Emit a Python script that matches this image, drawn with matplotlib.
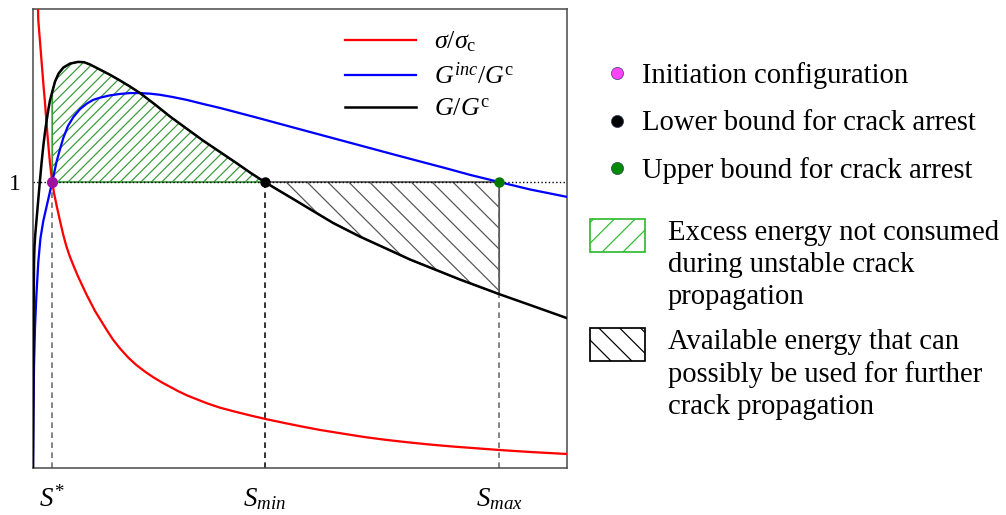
import matplotlib
matplotlib.use("Agg")
import matplotlib.pyplot as plt
from matplotlib.patches import Rectangle

plt.rcParams["font.family"] = ["Liberation Serif", "DejaVu Serif"]
plt.rcParams["mathtext.fontset"] = "custom"
plt.rcParams["mathtext.rm"] = "Liberation Serif"
plt.rcParams["mathtext.it"] = "Liberation Serif:italic"
plt.rcParams["hatch.linewidth"] = 0.7

# characteristic crack lengths
S_STAR = 0.36
S_MIN = 4.34
S_MAX = 8.73
x_ticks = [S_STAR, S_MIN, S_MAX]
x_tick_labels = [r"$S^{*}$", r"$S_{min}$", r"$S_{max}$"]

# sigma / sigma_c
red_x = [0.081, 0.099, 0.163, 0.193, 0.225, 0.268, 0.292, 0.318, 0.36, 0.393, 0.444, 0.506,
         0.567, 0.627, 0.693, 0.768, 0.843, 0.993, 1.161, 1.386, 1.498, 1.629, 1.779,
         1.929, 2.097, 2.247, 2.416, 2.566, 2.715, 2.884, 3.071, 3.277, 3.502, 3.783,
         4.064, 4.363, 4.719, 5.037, 5.375, 5.843, 6.217, 6.629, 7.060, 7.434, 7.865,
         8.296, 8.73, 9.307, 10.0]
red_y = [1.706, 1.566, 1.416, 1.346, 1.276, 1.171, 1.119, 1.066, 1.0, 0.962, 0.916, 0.864,
         0.815, 0.774, 0.738, 0.703, 0.670, 0.610, 0.549, 0.481, 0.449, 0.418, 0.387,
         0.361, 0.337, 0.318, 0.299, 0.284, 0.269, 0.254, 0.240, 0.225, 0.211, 0.197,
         0.184, 0.171, 0.157, 0.145, 0.133, 0.119, 0.108, 0.098, 0.089, 0.082, 0.075,
         0.069, 0.063, 0.056, 0.049]

# G_inc / G_c
blue_x = [0.0, 0.007, 0.019, 0.037, 0.062, 0.099, 0.140, 0.193, 0.287, 0.36, 0.444, 0.506,
          0.567, 0.655, 0.755, 0.880, 1.006, 1.124, 1.255, 1.442, 1.629, 1.816, 2.004,
          2.191, 2.378, 2.622, 2.884, 3.184, 3.502, 4.176, 4.869, 5.506, 6.124, 6.742,
          7.247, 7.715, 8.184, 8.73, 9.307, 10.0]
blue_y = [0.0, 0.168, 0.360, 0.490, 0.598, 0.720, 0.804, 0.864, 0.941, 1.0, 1.073, 1.115,
          1.154, 1.196, 1.227, 1.255, 1.274, 1.287, 1.295, 1.303, 1.308, 1.311, 1.311,
          1.309, 1.305, 1.297, 1.287, 1.273, 1.259, 1.226, 1.191, 1.159, 1.128, 1.097,
          1.072, 1.049, 1.025, 1.0, 0.974, 0.948]

# G / G_c
black_x = [0.0, 0.004, 0.008, 0.013, 0.019, 0.028, 0.043, 0.069, 0.099, 0.131, 0.161,
           0.193, 0.225, 0.257, 0.287, 0.318, 0.36, 0.412, 0.478, 0.567, 0.693, 0.843,
           0.955, 1.067, 1.255, 1.442, 1.629, 1.816, 2.004, 2.285, 2.566, 2.875, 3.184,
           3.502, 3.820, 4.082, 4.34, 4.607, 4.869, 5.243, 5.618, 6.124, 6.629, 7.060,
           7.528, 7.996, 8.371, 8.73, 9.307, 10.0]
black_y = [0.0, 0.168, 0.378, 0.587, 0.720, 0.776, 0.818, 0.874, 0.939, 1.007, 1.068,
           1.126, 1.175, 1.217, 1.253, 1.285, 1.315, 1.351, 1.379, 1.400, 1.414, 1.420,
           1.419, 1.411, 1.393, 1.375, 1.355, 1.334, 1.311, 1.271, 1.229, 1.187, 1.145,
           1.105, 1.065, 1.031, 1.0, 0.970, 0.941, 0.899, 0.857, 0.809, 0.766, 0.729,
           0.694, 0.659, 0.633, 0.608, 0.570, 0.524]

DPI = 125
W, H = 1006, 515
fig = plt.figure(figsize=(W / DPI, H / DPI), dpi=DPI)
ax = fig.add_axes([33 / W, 47 / H, 534 / W, 459 / H])

green_mask = [S_STAR <= x <= S_MIN for x in black_x]
gray_mask = [S_MIN <= x <= S_MAX for x in black_x]
ax.fill_between(black_x, 1.0, black_y, where=green_mask, facecolor="none",
                edgecolor="#3a9a3a", hatch="////", linewidth=1.0, zorder=1)
ax.fill_between(black_x, 1.0, black_y, where=gray_mask, facecolor="none",
                edgecolor="#555555", hatch="\\\\", linewidth=1.0, zorder=1)

ax.axhline(1.0, color="black", ls=":", lw=0.8, zorder=2)
dash = (0, (3.6, 2.8))
ax.vlines([S_STAR, S_MAX], 0, 1.0, colors="#666666", linestyles=dash, lw=0.9, zorder=2)
ax.vlines([S_MIN], 0, 1.0, colors="black", linestyles=dash, lw=0.9, zorder=2)

ax.plot(red_x, red_y, color="#ff0000", lw=1.3, label=r"$\sigma/\sigma_{\mathrm{c}}$", zorder=3)
ax.plot(blue_x, blue_y, color="#0000ff", lw=1.3, label=r"$G^{inc}/G^{\mathrm{c}}$", zorder=3)
ax.plot(black_x, black_y, color="black", lw=1.45, label=r"$G/G^{\mathrm{c}}$", zorder=3)

ax.plot([S_STAR], [1.0], "o", color="#a010a0", ms=5.4, zorder=4)
ax.plot([S_MIN], [1.0], "o", color="black", ms=5.0, zorder=4)
ax.plot([S_MAX], [1.0], "o", color="#007a00", ms=5.0, zorder=4)

ax.set_xlim(0, 10)
ax.set_ylim(0, 1.605)
ax.set_xticks(x_ticks)
ax.set_xticklabels(x_tick_labels, fontsize=15.5)
ax.set_yticks([1.0])
ax.set_yticklabels(["1"], fontsize=13.5)
ax.tick_params(axis="x", length=0, pad=10.5)
ax.tick_params(axis="y", length=0, pad=7)
for sp in ax.spines.values():
    sp.set_color("#4d4d4d")
    sp.set_linewidth(0.9)

ax.legend(loc="upper left", bbox_to_anchor=(0.585, 0.955), frameon=False, fontsize=15,
          handlelength=2.7, handletextpad=0.7, labelspacing=0.32, borderpad=0,
          borderaxespad=0)

# right-hand key, drawn in pixel coordinates
ov = fig.add_axes([0, 0, 1, 1])
ov.set_xlim(0, W)
ov.set_ylim(H, 0)
ov.axis("off")

point_keys = [("#ff44ff", "Initiation configuration"),
              ("black", "Lower bound for crack arrest"),
              ("#008a00", "Upper bound for crack arrest")]
for i, (c, txt) in enumerate(point_keys):
    yy = 73 + i * 47.5
    ov.plot(617, yy, "o", color=c, ms=7, mec="#334466", mew=0.4)
    ov.text(642, yy + 3, txt, fontsize=16.5, va="center", ha="left")

area_keys = [("#33bb33", "//", "Excess energy not consumed\nduring unstable crack\npropagation", 219),
             ("black", "\\\\", "Available energy that can\npossibly be used for further\ncrack propagation", 328)]
for c, h, txt, top in area_keys:
    ov.add_patch(Rectangle((590, top), 55, 33, facecolor="none", edgecolor=c,
                           hatch=h, lw=1.0))
    ov.text(668, top + 1, txt, fontsize=16.5, va="top", ha="left", linespacing=1.3)

fig.savefig("out.png", dpi=DPI)
